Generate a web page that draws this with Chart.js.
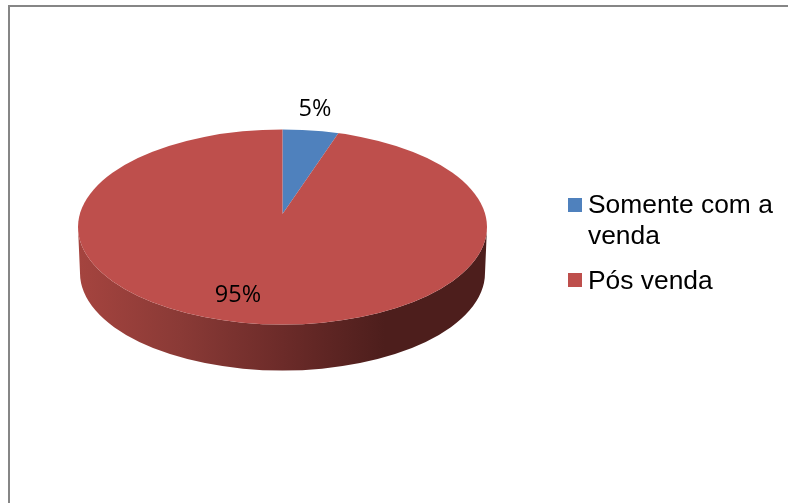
<!DOCTYPE html>
<html lang="pt-BR">
<head>
  <meta charset="UTF-8" />
  <title>Pizza 3D</title>
  <script src="https://cdn.jsdelivr.net/npm/chart.js"></script>
  <style>
    html, body { margin: 0; background: #fff; overflow: hidden; }
    #wrap { position: relative; width: 788px; height: 503px; }
    #frame {
      position: absolute; left: 8px; top: 5px; width: 780px; height: 498px;
      border: 2px solid #868686; border-bottom: none; border-right: none; box-sizing: border-box;
    }
    canvas { position: absolute; left: 0; top: 0; }
  </style>
</head>
<body>
  <div id="wrap">
    <div id="frame"></div>
    <canvas id="chart" width="788" height="503"></canvas>
  </div>

  <script>
    const categorias = ["Somente com a venda", "Pós venda"];
    const legendaLinhas = [["Somente com a", "venda"], ["Pós venda"]];
    const valores = [5, 95];
    const rotulos = ["5%", "95%"];
    const cores = ["#4f81bd", "#be4f4c"];

    // contorno do topo (elipse) e altura da lateral
    const elipse = { x: 282.5, y: 227, rx: 204.5, ry: 97.5 };
    const profundidade = 46;
    // o vertice da pizza fica acima do centro da elipse (perspectiva)
    const achatar = 0.47;

    const pizza3d = {
      id: "pizza3d",
      beforeDatasetsDraw(chart) {
        const ctx = chart.ctx;
        const arc = chart.getDatasetMeta(0).data[0];
        const { x, y } = arc;
        // lateral
        const g = ctx.createLinearGradient(elipse.x - elipse.rx, 0, elipse.x + elipse.rx, 0);
        g.addColorStop(0, "#a5443f");
        g.addColorStop(0.25, "#8a3a36");
        g.addColorStop(0.5, "#6c2b29");
        g.addColorStop(0.75, "#4d1e1c");
        g.addColorStop(1, "#4d1e1c");
        ctx.save();
        ctx.fillStyle = g;
        ctx.beginPath();
        ctx.ellipse(elipse.x, elipse.y, elipse.rx, elipse.ry, 0, Math.PI, 0, true);
        ctx.ellipse(elipse.x, elipse.y + profundidade, elipse.rx - 2, elipse.ry, 0, 0, Math.PI, false);
        ctx.closePath();
        ctx.fill();
        ctx.restore();
        // topo: fatias recortadas pela elipse e achatadas em torno do vertice
        ctx.save();
        ctx.beginPath();
        ctx.ellipse(elipse.x, elipse.y, elipse.rx, elipse.ry, 0, 0, Math.PI * 2);
        ctx.clip();
        ctx.translate(x, y);
        ctx.scale(1, achatar);
        ctx.translate(-x, -y);
      },
      afterDatasetsDraw(chart) {
        const ctx = chart.ctx;
        ctx.restore();
        ctx.save();
        ctx.fillStyle = "#000";
        ctx.font = '23.5px "Open Sans", sans-serif';
        ctx.textAlign = "center";
        ctx.textBaseline = "middle";
        ctx.fillText(rotulos[0], 315, 109);
        ctx.fillText(rotulos[1], 238, 295);

        // legenda
        ctx.textAlign = "left";
        ctx.font = '26.4px "Liberation Sans", sans-serif';
        ctx.fillStyle = cores[0];
        ctx.fillRect(568, 198, 14, 14);
        ctx.fillStyle = cores[1];
        ctx.fillRect(568, 273, 14, 14);
        ctx.fillStyle = "#000";
        ctx.fillText(legendaLinhas[0][0], 588, 206);
        ctx.fillText(legendaLinhas[0][1], 588, 237);
        ctx.fillText(legendaLinhas[1][0], 588, 282);
        ctx.restore();
      }
    };

    new Chart(document.getElementById("chart"), {
      type: "pie",
      data: {
        labels: categorias,
        datasets: [{ data: valores, backgroundColor: cores, borderWidth: 0, radius: 260 }]
      },
      options: {
        responsive: false,
        animation: false,
        events: [],
        // centro em (282.5,214)
        layout: { padding: { left: 83, top: 14, right: 306, bottom: 89 } },
        plugins: { legend: { display: false }, tooltip: { enabled: false } }
      },
      plugins: [pizza3d]
    });
  </script>
</body>
</html>
